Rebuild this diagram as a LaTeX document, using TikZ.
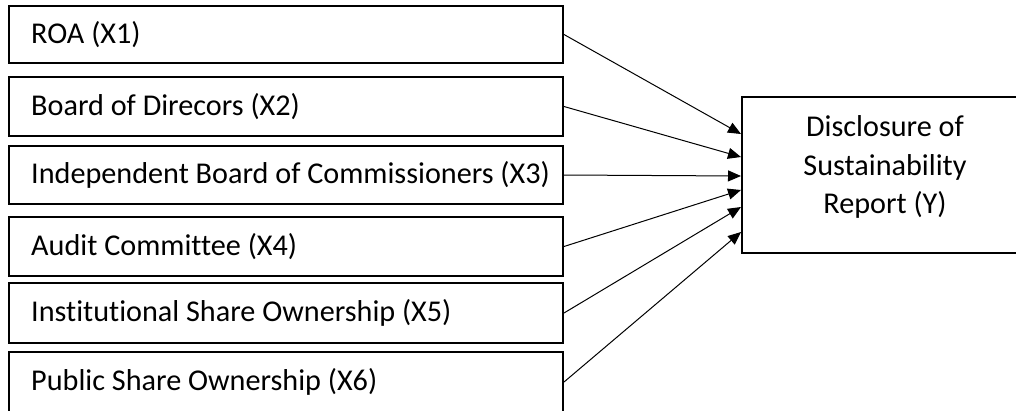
\documentclass[tikz,border=0pt]{standalone}
\usepackage{fontspec}
\setmainfont[Ligatures={NoCommon,NoRequired,NoContextual}]{Carlito}
\usetikzlibrary{arrows.meta}
\tikzset{
  inbox/.style={draw, line width=2pt, minimum width=554pt, inner sep=0pt},
  outbox/.style={draw, line width=2pt, minimum width=360pt, minimum height=156pt, inner sep=0pt},
  lbl/.style={anchor=west, inner sep=0pt, font=\fontsize{30.2}{38.5}\selectfont},
  ylbl/.style={align=center, inner sep=0pt, font=\fontsize{30.2}{38.5}\selectfont},
  conn/.style={line width=1pt, -{Triangle[length=13pt,width=11pt]}, shorten >=0pt}
}
\begin{document}
\begin{tikzpicture}[x=1pt,y=-1pt]
\useasboundingbox (0,0) rectangle (1016,410);
\clip (0,0) rectangle (1016,410);
\node[inbox, minimum height=57pt] (x1) at (286,34.5) {};
\node[inbox, minimum height=59pt] (x2) at (286,106.5) {};
\node[inbox, minimum height=58pt] (x3) at (286,175) {};
\node[inbox, minimum height=59pt] (x4) at (286,246.5) {};
\node[inbox, minimum height=60pt] (x5) at (286,313) {};
\node[inbox, minimum height=60pt] (x6) at (286,382) {};
\node[lbl] (l1) at ([xshift=23pt]x1.west) {ROA (X1)};
\node[lbl] (l2) at ([xshift=23pt]x2.west) {Board of Direcors (X2)};
\node[lbl] (l3) at ([xshift=23pt]x3.west) {Independent Board of Commissioners (X3)};
\node[lbl] (l4) at ([xshift=23pt]x4.west) {Audit Committee (X4)};
\node[lbl] (l5) at ([xshift=23pt]x5.west) {Institutional Share Ownership (X5)};
\node[lbl] (l6) at ([xshift=23pt]x6.west) {Public Share Ownership (X6)};
\node[outbox] (y) at (922,175) {};
\node[ylbl] (yl) at (885,167) {Disclosure of\\Sustainability\\Report (Y)};
\coordinate (t1) at (741,134);
\coordinate (t2) at (741,157);
\coordinate (t3) at (741,176);
\coordinate (t4) at (741,190);
\coordinate (t5) at (741,207);
\coordinate (t6) at (741,232);
\draw[conn] (x1.east) -- (t1);
\draw[conn] (x2.east) -- (t2);
\draw[conn] (x3.east) -- (t3);
\draw[conn] (x4.east) -- (t4);
\draw[conn] (x5.east) -- (t5);
\draw[conn] (x6.east) -- (t6);
\end{tikzpicture}
\end{document}
